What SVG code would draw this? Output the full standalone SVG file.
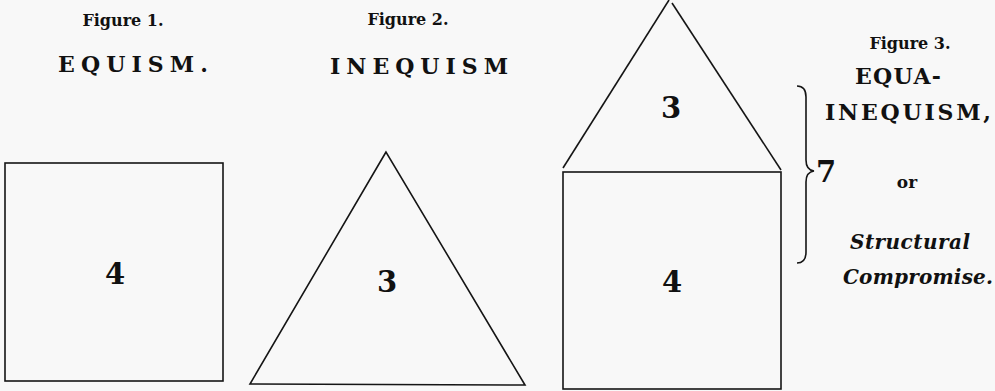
<svg xmlns="http://www.w3.org/2000/svg" width="995" height="391" viewBox="0 0 995 391">
<style>
.ln{fill:none;stroke:#151515;stroke-width:1.6}
.t{font-family:"DejaVu Serif","Liberation Serif",serif;font-weight:bold;fill:#111}
.fig{font-size:16px}
.cap{font-size:22px}
.num{font-size:29px}
.it{font-style:italic;font-size:20px}
</style>
<rect width="995" height="391" fill="#f8f8f8"/>
<g id="figure1">
<text class="t fig" x="123" y="26" text-anchor="middle">Figure 1.</text>
<text class="t cap" x="58" y="72" textLength="150">EQUISM.</text>
<rect id="square1" class="ln" x="5" y="163" width="218" height="218"/>
<text class="t num" x="115" y="284" text-anchor="middle">4</text>
</g>
<g id="figure2">
<text class="t fig" style="font-weight:600" x="408" y="25" text-anchor="middle">Figure 2.</text>
<text class="t cap" x="330" y="74" textLength="178">INEQUISM</text>
<polygon id="triangle2" class="ln" points="386,152 250,384 525,385"/>
<text class="t num" x="387" y="292" text-anchor="middle">3</text>
</g>
<g id="figure3">
<polyline class="ln" points="563,168 669,0"/>
<polyline class="ln" points="672,3 781,170"/>
<text class="t num" x="671" y="118" text-anchor="middle">3</text>
<rect id="square3" class="ln" x="563" y="172" width="218" height="217"/>
<text class="t num" x="672" y="292" text-anchor="middle">4</text>
</g>
<g id="connectors">
<path id="brace" class="ln" d="M797 86 Q806 86 806 97 L806 160 Q806 170 814 171 Q806 172 806 182 L806 252 Q806 263 797 263"/>
</g>
<g id="labels3">
<text class="t fig" style="font-weight:600" x="910" y="49" text-anchor="middle">Figure 3.</text>
<text class="t cap" x="855" y="84" textLength="86">EQUA-</text>
<text class="t cap" x="825" y="120" textLength="166">INEQUISM,</text>
<text class="t num" x="816" y="182">7</text>
<text class="t" style="font-size:17px" x="907" y="188" text-anchor="middle">or</text>
<text class="t it" x="850" y="249" textLength="120">Structural</text>
<text class="t it" x="843" y="284" textLength="150">Compromise.</text>
</g>
</svg>
